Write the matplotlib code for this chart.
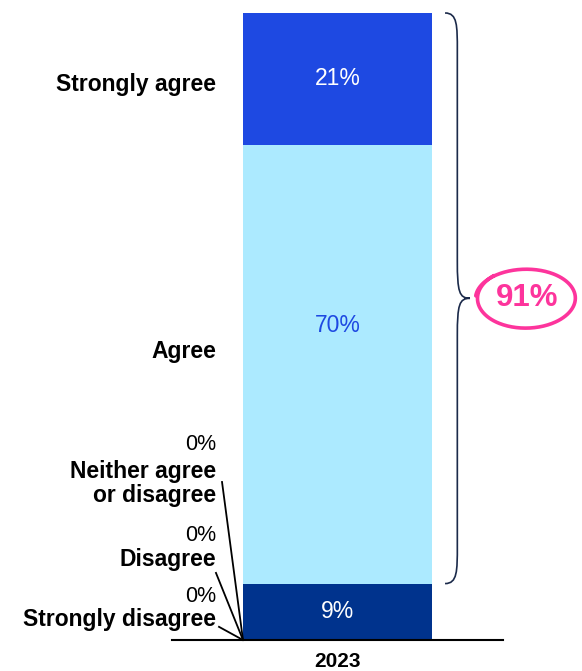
import numpy as np
import matplotlib
matplotlib.use("Agg")
import matplotlib.pyplot as plt
from matplotlib.path import Path
from matplotlib.patches import PathPatch

plt.rcParams['font.family'] = ['Liberation Sans', 'DejaVu Sans']

# Survey response shares for 2023 (bottom to top of the stack)
year = "2023"
categories = ["Strongly disagree", "Disagree", "Neither agree\nor disagree", "", "Agree", "Strongly agree"]
values = [0, 0, 0, 9, 70, 21]
colors = ["#00338D", "#00338D", "#00338D", "#00338D", "#ACEAFF", "#1E49E2"]
value_text_colors = [None, None, None, "white", "#1E49E2", "white"]
total_agree = 91

W, H = 582, 671
fig = plt.figure(figsize=(W / 100, H / 100), dpi=100)
bottom_px, top_px = 640, 13
ax = fig.add_axes([0, (H - bottom_px) / H, 1, (bottom_px - top_px) / H])
bar_w_px = 189
center_px = 337.5
ax.set_xlim(-center_px / bar_w_px, (W - center_px) / bar_w_px)
ax.set_ylim(0, 100)
ax.axis("off")

LABEL_FS = 16.5
VALUE_FS = 16.5
ZERO_FS = 15.5

# Stacked bar
cum = 0
for v, c in zip(values, colors):
    ax.bar(0, v, width=1.0, bottom=cum, color=c, linewidth=0)
    cum += v

# Value labels inside bar
cum = np.cumsum([0] + values)
val_y = {3: None, 4: 50.2, 5: None}
for i in (3, 4, 5):
    y = val_y[i] if val_y[i] is not None else cum[i] + values[i] / 2
    ax.text(0, y, f"{values[i]}%", ha="center", va="center", fontsize=VALUE_FS,
            color=value_text_colors[i])

# Baseline
ax.plot([-0.876, 0.876], [0, 0], color="black", lw=1.5, clip_on=False)
ax.text(0, -3.5, year, ha="center", va="center", fontsize=15, fontweight="bold")

# Category labels on the left
lx = -0.643
ax.text(lx, 88.6, categories[5], ha="right", va="center", fontsize=LABEL_FS, fontweight="bold")
ax.text(lx, 46.0, categories[4], ha="right", va="center", fontsize=LABEL_FS, fontweight="bold")

zero_labels = [
    (31.2, 25.0, categories[2], (-0.611, 25.2)),
    (16.6, 12.9, categories[1], (-0.643, 10.7)),
    (6.9, 3.3, categories[0], (-0.627, 2.1)),
]
for (yv, yl, lab, start), i in zip(zero_labels, (2, 1, 0)):
    ax.text(lx, yv, f"{values[i]}%", ha="right", va="center", fontsize=ZERO_FS)
    ax.text(lx, yl, lab, ha="right", va="center", fontsize=LABEL_FS, fontweight="bold",
            linespacing=1.08)
    ax.plot([start[0], -0.5], [start[1], cum[i]], color="black", lw=1.3, clip_on=False)

# Curly brace spanning the agree + strongly agree range
y0, y1 = cum[4], cum[6]
ym = (y0 + y1) / 2
xa, xb, xc = 0.569, 0.634, 0.701
verts = [
    (xa, y1), (xb, y1), (xb, y1 - 2), (xb, y1 - 6),
    (xb, ym + 6),
    (xb, ym + 1), (xb + 0.01, ym), (xc, ym),
    (xb + 0.01, ym), (xb, ym - 1), (xb, ym - 6),
    (xb, y0 + 6),
    (xb, y0 + 2), (xb, y0), (xa, y0),
]
codes = [Path.MOVETO, Path.CURVE4, Path.CURVE4, Path.CURVE4,
         Path.LINETO,
         Path.CURVE4, Path.CURVE4, Path.CURVE4,
         Path.CURVE4, Path.CURVE4, Path.CURVE4,
         Path.LINETO,
         Path.CURVE4, Path.CURVE4, Path.CURVE4]
ax.add_patch(PathPatch(Path(verts, codes), fill=False, edgecolor="#1B2A4A", lw=1.2,
                       clip_on=False))

# Hand-drawn circle around the total
pink = "#FD349C"
cx, cy = 0.997, ym
t = np.linspace(0.0, 2 * np.pi * 1.12, 300) + 2.3
rx = 0.255 * (1 + 0.04 * (t - t[0]) / (2 * np.pi))
ry = 4.85 * (1 - 0.05 * (t - t[0]) / (2 * np.pi))
ax.plot(cx + rx * np.cos(t), cy + ry * np.sin(t), color=pink, lw=2.6,
        solid_capstyle="round", clip_on=False)
ax.text(cx + 0.005, cy, f"{total_agree}%", ha="center", va="center", fontsize=22.5,
        fontweight="bold", color=pink)

fig.savefig("out.png", dpi=100)
